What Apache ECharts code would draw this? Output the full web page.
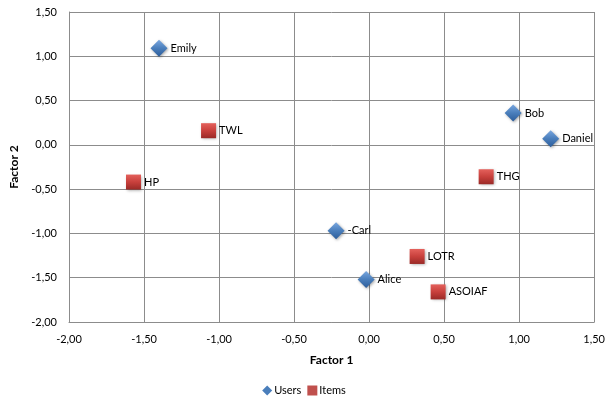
<!DOCTYPE html>
<html>
<head>
<meta charset="utf-8">
<script src="https://cdn.jsdelivr.net/npm/echarts@6/dist/echarts.min.js"></script>
<style>
  html, body { margin: 0; padding: 0; background: #fff; }
  #chart { width: 608px; height: 403px; }
</style>
</head>
<body>
<div id="chart"></div>
<script>
// Factor loadings for users and items
const userNames = ['Emily', 'Bob', 'Daniel', '-Carl', 'Alice'];
const userX = [-1.40, 0.96, 1.21, -0.22, -0.02];
const userY = [1.09, 0.36, 0.07, -0.97, -1.52];

const itemNames = ['TWL', 'HP', 'THG', 'LOTR', 'ASOIAF'];
const itemX = [-1.07, -1.57, 0.78, 0.32, 0.46];
const itemY = [0.16, -0.42, -0.36, -1.26, -1.66];

const fontFamily = 'Lato, "Open Sans", sans-serif';
const fmt = v => v.toFixed(2).replace('.', ',');

function points(names, xs, ys) {
  return names.map((n, i) => ({ name: n, value: [xs[i], ys[i]] }));
}

const chart = echarts.init(document.getElementById('chart'), null, { renderer: 'canvas' });

const gridLine = { show: true, lineStyle: { color: '#8c8c8c', width: 1 } };
const labelStyle = {
  show: true, position: 'right', distance: 3,
  formatter: p => p.name, color: '#000', fontSize: 11, fontFamily
};

chart.setOption({
  animation: false,
  grid: { left: 69, right: 11, top: 12, bottom: 81, containLabel: false },
  xAxis: {
    type: 'value', min: -2, max: 1.5, interval: 0.5,
    name: 'Factor 1', nameLocation: 'middle', nameGap: 32,
    nameTextStyle: { fontWeight: 'bold', fontSize: 12, color: '#000', fontFamily },
    axisLine: { show: true, onZero: false, lineStyle: { color: '#8c8c8c' } },
    axisTick: { show: false },
    splitLine: gridLine,
    axisLabel: { formatter: fmt, color: '#000', fontSize: 11, fontFamily, margin: 12 }
  },
  yAxis: {
    type: 'value', min: -2, max: 1.5, interval: 0.5,
    name: 'Factor 2', nameLocation: 'middle', nameGap: 43, nameRotate: 90,
    nameTextStyle: { fontWeight: 'bold', fontSize: 12, color: '#000', fontFamily },
    axisLine: { show: true, onZero: false, lineStyle: { color: '#8c8c8c' } },
    axisTick: { show: false },
    splitLine: gridLine,
    axisLabel: { formatter: fmt, color: '#000', fontSize: 11, fontFamily, margin: 12 }
  },
  legend: {
    bottom: 2, left: 'center',
    itemWidth: 10, itemHeight: 10, itemGap: 6,
    textStyle: { fontSize: 11, color: '#000', fontFamily, padding: [0, 0, 0, -3] },
    data: [
      { name: 'Users', icon: 'diamond', itemStyle: { color: '#4a7ebb', borderWidth: 0, shadowBlur: 0, opacity: 1 } },
      { name: 'Items', icon: 'rect', itemStyle: { color: '#c0504d', borderWidth: 0, shadowBlur: 0, opacity: 1 } }
    ]
  },
  series: [
    {
      name: 'Users', type: 'scatter', symbol: 'diamond', symbolSize: 17,
      data: points(userNames, userX, userY),
      itemStyle: {
        opacity: 1,
        color: new echarts.graphic.LinearGradient(0, 0, 0, 1, [
          { offset: 0, color: '#79a7e0' },
          { offset: 0.5, color: '#4a7ebb' },
          { offset: 1, color: '#2c5d9b' }
        ]),
        shadowBlur: 3, shadowColor: 'rgba(0,0,0,0.35)', shadowOffsetX: 1, shadowOffsetY: 1
      },
      label: labelStyle
    },
    {
      name: 'Items', type: 'scatter', symbol: 'rect', symbolSize: 15,
      data: points(itemNames, itemX, itemY),
      itemStyle: {
        opacity: 1,
        color: new echarts.graphic.LinearGradient(0, 0, 0, 1, [
          { offset: 0, color: '#e4615c' },
          { offset: 0.5, color: '#c8403c' },
          { offset: 1, color: '#9a2a27' }
        ]),
        shadowBlur: 3, shadowColor: 'rgba(0,0,0,0.35)', shadowOffsetX: 1, shadowOffsetY: 1
      },
      label: labelStyle
    }
  ]
});
</script>
</body>
</html>
